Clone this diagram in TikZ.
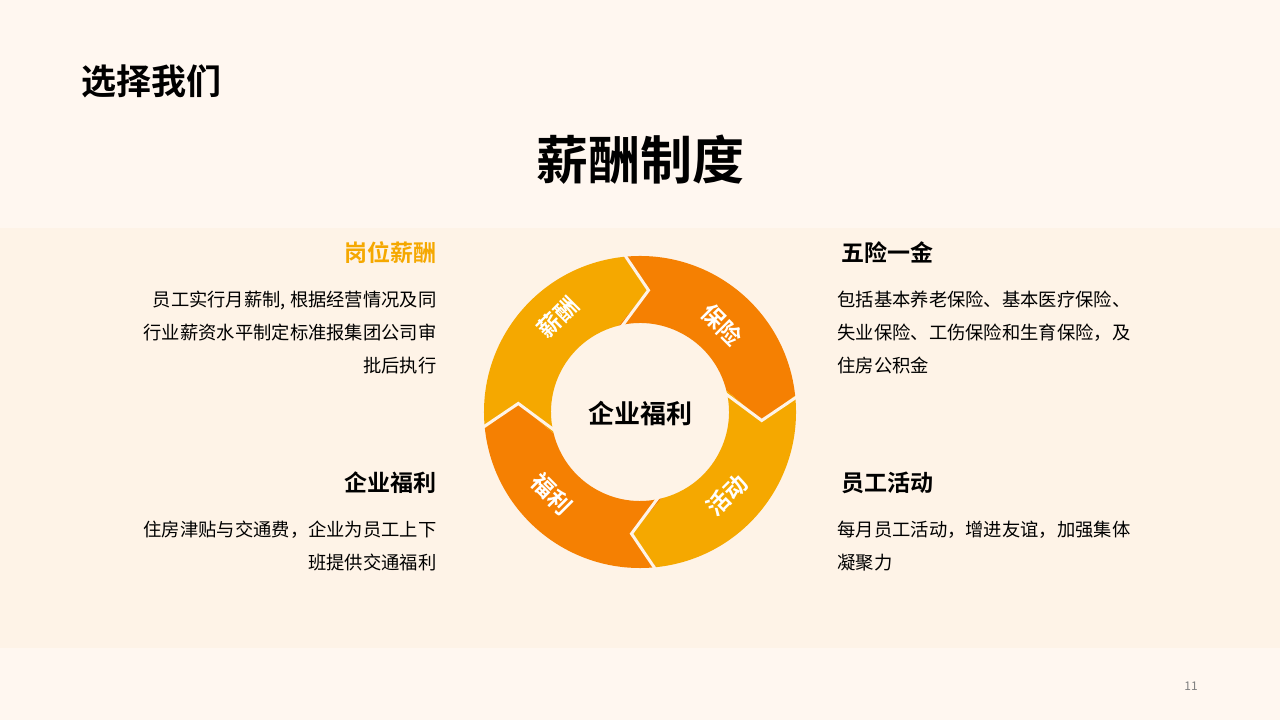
\documentclass[tikz,border=0pt]{standalone}
\usepackage{fontspec}
\setmainfont{Noto Sans CJK SC}
\newfontfamily\cjkb{Noto Sans CJK SC Bold}
\definecolor{bgA}{HTML}{FFF7F0}
\definecolor{bgB}{HTML}{FEF3E7}
\definecolor{orA}{HTML}{F58002}
\definecolor{yeA}{HTML}{F5A800}
\tikzset{
 gap/.style={draw=bgB,line width=3pt,line join=miter,line cap=butt},
 lbl/.style={text=white,font=\cjkb\fontsize{23}{23}\selectfont},
 head/.style={font=\cjkb\fontsize{23}{24}\selectfont},
 body/.style={font=\fontsize{18.3}{33}\selectfont,align=left},
 bodyr/.style={font=\fontsize{18.3}{33}\selectfont,align=right}
}
\newcommand{\mkseg}[2]{%
 \pgfmathsetmacro{\A}{#1}\pgfmathsetmacro{\B}{#1-90}%
 \fill[#2] ({640+156*cos(\A+6)},{412+156*sin(\A+6)}) arc[start angle=\A+6,end angle=\B+6,radius=156]
  -- ({640+122*cos(\B-4)},{412+122*sin(\B-4)})
  -- ({640+89*cos(\B+14)},{412+89*sin(\B+14)}) arc[start angle=\B+14,end angle=\A+14,radius=89]
  -- ({640+122*cos(\A-4)},{412+122*sin(\A-4)}) -- cycle;}
\newcommand{\mkgap}[1]{%
 \draw[gap] ({640+160*cos(#1+6)},{412+160*sin(#1+6)}) -- ({640+122*cos(#1-4)},{412+122*sin(#1-4)})
  -- ({640+85*cos(#1+14)},{412+85*sin(#1+14)});}
\begin{document}
\begin{tikzpicture}[x=1pt,y=1pt]
\fill[bgA] (0,0) rectangle (1280,720);
\fill[bgB] (0,72) rectangle (1280,492);
\useasboundingbox (0,0) rectangle (1280,720);
\node[anchor=west,font=\cjkb\fontsize{35}{35}\selectfont] (t1) at (78,639) {选择我们};
\node[font=\cjkb\fontsize{52}{52}\selectfont] (t2) at (640,560) {薪酬制度};
\begin{scope}[shift={(0,-104)}]
\mkseg{180}{yeA}
\mkseg{90}{orA}
\mkseg{0}{yeA}
\mkseg{270}{orA}
\mkgap{180}\mkgap{90}\mkgap{0}\mkgap{270}
\end{scope}
\node[font=\cjkb\fontsize{26}{26}\selectfont] (c) at (640,306) {企业福利};
\node[lbl,rotate=45] (l1) at (558,403) {薪酬};
\node[lbl,rotate=-45] (l2) at (722,395) {保险};
\node[lbl,rotate=45] (l3) at (727,225) {活动};
\node[lbl,rotate=-45] (l4) at (552,226) {福利};
% left column
\node[head,anchor=east,text=yeA] (h1) at (440,467) {岗位薪酬};
\node[bodyr,anchor=north east] (b1) at (440,433) {员工实行月薪制, 根据经营情况及同\\行业薪资水平制定标准报集团公司审\\批后执行};
\node[head,anchor=east] (h3) at (440,237) {企业福利};
\node[bodyr,anchor=north east] (b3) at (440,203) {住房津贴与交通费，企业为员工上下\\班提供交通福利};
% right column
\node[head,anchor=west] (h2) at (838,467) {五险一金};
\node[body,anchor=north west] (b2) at (834,433) {包括基本养老保险、基本医疗保险、\\失业保险、工伤保险和生育保险，及\\住房公积金};
\node[head,anchor=west] (h4) at (838,237) {员工活动};
\node[body,anchor=north west] (b4) at (834,203) {每月员工活动，增进友谊，加强集体\\凝聚力};
\node[text=gray,font=\fontsize{12}{12}\selectfont] (pg) at (1191,34) {11};
\end{tikzpicture}
\end{document}
